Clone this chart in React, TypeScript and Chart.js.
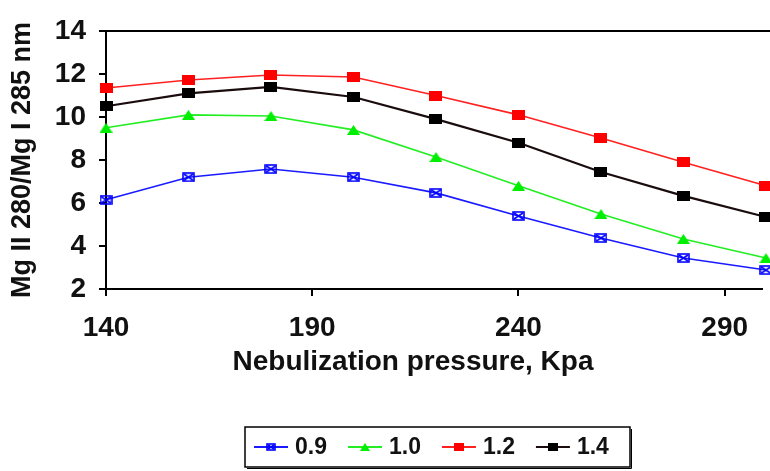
import { useEffect, useRef } from 'react';
import { Chart, registerables } from 'chart.js';

Chart.register(...registerables);

const pressures = [140, 160, 180, 200, 220, 240, 260, 280, 300];
const series09 = [6.15, 7.2, 7.58, 7.2, 6.47, 5.4, 4.37, 3.44, 2.88];
const series10 = [9.5, 10.1, 10.05, 9.4, 8.14, 6.8, 5.49, 4.33, 3.44];
const series12 = [11.35, 11.72, 11.95, 11.86, 11.0, 10.1, 9.02, 7.9, 6.8];
const series14 = [10.5, 11.1, 11.4, 10.93, 9.9, 8.8, 7.44, 6.33, 5.35];
const seriesLabels = ['0.9', '1.0', '1.2', '1.4'];
const xTickValues = [140, 190, 240, 290];
const yTitle = 'Mg II 280/Mg I 285 nm';
const xTitle = 'Nebulization pressure, Kpa';

const FONT = '"Liberation Sans", Arial, sans-serif';

type Kind = 'crossSquare' | 'triangle' | 'rect';

function makeMarker(kind: Kind, color: string, w: number, h: number): HTMLCanvasElement {
  const c = document.createElement('canvas');
  c.width = w;
  c.height = h;
  const g = c.getContext('2d')!;
  g.fillStyle = color;
  g.strokeStyle = color;
  if (kind === 'rect') {
    g.fillRect(0, 0, w, h);
  } else if (kind === 'triangle') {
    g.beginPath();
    g.moveTo(w / 2, 0);
    g.lineTo(w, h);
    g.lineTo(0, h);
    g.closePath();
    g.fill();
  } else {
    g.lineWidth = 1.6;
    g.strokeRect(1, 1, w - 2, h - 2);
    g.beginPath();
    g.moveTo(2, 2);
    g.lineTo(w - 2, h - 2);
    g.moveTo(w - 2, 2);
    g.lineTo(2, h - 2);
    g.stroke();
  }
  return c;
}

const seriesColors = ['#0000ff', '#00ee00', '#ff0000', '#000000'];
const lineColors = ['#1a1aff', '#22ee22', '#ff2020', '#1a0c0c'];
const kinds: Kind[] = ['crossSquare', 'triangle', 'rect', 'rect'];

export default function App() {
  const ref = useRef<HTMLCanvasElement | null>(null);

  useEffect(() => {
    if (!ref.current) return;
    const values = [series09, series10, series12, series14];
    const bigMarkers = kinds.map((k, i) => makeMarker(k, seriesColors[i], 13, 10));
    const smallMarkers = kinds.map((k, i) => makeMarker(k, seriesColors[i], 10, 8));

    const frame = {
      id: 'frame',
      afterDraw(chart: any) {
        const { ctx, chartArea } = chart;
        ctx.save();
        ctx.strokeStyle = '#000';
        ctx.lineWidth = 2;
        ctx.beginPath();
        ctx.moveTo(chartArea.left - 7, chartArea.top);
        ctx.lineTo(chart.width, chartArea.top);
        ctx.stroke();

        // x-axis title
        ctx.fillStyle = '#111';
        ctx.font = `bold 28px ${FONT}`;
        ctx.textAlign = 'center';
        ctx.textBaseline = 'middle';
        ctx.fillText(xTitle, 413, 362);

        // legend
        const bx = 245, by = 427, bw = 385, bh = 40;
        ctx.lineWidth = 1.5;
        ctx.strokeRect(bx, by, bw, bh);
        ctx.lineWidth = 1;
        ctx.beginPath();
        ctx.moveTo(bx + 2, by + bh + 1.5);
        ctx.lineTo(bx + bw + 1.5, by + bh + 1.5);
        ctx.lineTo(bx + bw + 1.5, by + 2);
        ctx.stroke();

        ctx.font = `bold 23px ${FONT}`;
        ctx.textBaseline = 'middle';
        ctx.textAlign = 'left';
        const cy = by + bh / 2;
        let x = 254;
        seriesLabels.forEach((lab, i) => {
          ctx.strokeStyle = lineColors[i];
          ctx.lineWidth = 2;
          ctx.beginPath();
          ctx.moveTo(x, cy);
          ctx.lineTo(x + 34, cy);
          ctx.stroke();
          const m = smallMarkers[i];
          ctx.drawImage(m, x + 17 - m.width / 2, cy - m.height / 2);
          ctx.fillStyle = '#111';
          ctx.fillText(lab, x + 41, cy + 1);
          x += 34 + 7 + ctx.measureText(lab).width + 21;
        });
        ctx.restore();
      },
    };

    const chart = new Chart(ref.current, {
      type: 'line',
      data: {
        datasets: seriesLabels.map((lab, i) => ({
          label: lab,
          data: pressures.map((p, j) => ({ x: p, y: values[i][j] })),
          borderColor: lineColors[i],
          backgroundColor: seriesColors[i],
          borderWidth: i === 3 ? 2.2 : 1.6,
          pointStyle: bigMarkers[i] as any,
          pointRadius: 6,
          tension: 0,
          clip: false as any,
        })),
      },
      options: {
        responsive: false,
        animation: false,
        events: [],
        layout: { padding: { top: 31, right: 0, bottom: 0, left: 0 } },
        plugins: {
          legend: { display: false },
          tooltip: { enabled: false },
        },
        scales: {
          x: {
            type: 'linear',
            min: 140,
            max: 299,
            afterBuildTicks: (scale: any) => {
              scale.ticks = xTickValues.map((v) => ({ value: v }));
            },
            afterFit: (scale: any) => {
              scale.height = 182;
            },
            ticks: {
              color: '#111',
              font: { family: FONT, size: 28, weight: 'bold' },
              padding: 15,
              maxRotation: 0,
              autoSkip: false,
            },
            grid: {
              drawOnChartArea: false,
              drawTicks: true,
              tickLength: 7,
              color: '#000',
              lineWidth: 2,
            },
            border: { display: true, color: '#000', width: 2 },
            title: { display: false, text: xTitle },
          },
          y: {
            type: 'linear',
            min: 2,
            max: 14,
            afterFit: (scale: any) => {
              scale.width = 106;
            },
            ticks: {
              stepSize: 2,
              color: '#111',
              font: { family: FONT, size: 28, weight: 'bold' },
              padding: 13,
            },
            grid: {
              drawOnChartArea: false,
              drawTicks: true,
              tickLength: 7,
              color: '#000',
              lineWidth: 2,
            },
            border: { display: true, color: '#000', width: 2 },
            title: {
              display: true,
              text: yTitle,
              color: '#111',
              font: { family: FONT, size: 27, weight: 'bold' },
              padding: { top: 6, bottom: 0 },
            },
          },
        },
      },
      plugins: [frame],
    });
    return () => chart.destroy();
  }, []);

  return (
    <div style={{ position: 'absolute', left: 0, top: 0, width: 770, height: 471, background: '#fff' }}>
      <canvas ref={ref} width={770} height={471} />
    </div>
  );
}
